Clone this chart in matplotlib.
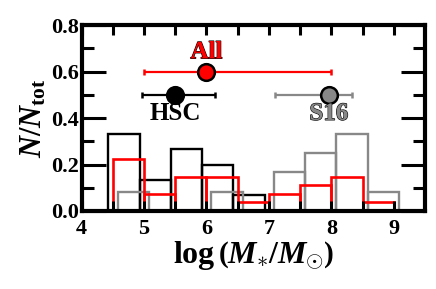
import matplotlib
matplotlib.use('Agg')
import matplotlib.pyplot as plt
import matplotlib.patheffects as pe
import numpy as np

# histogram bins (left edges, width 0.5) and counts
hsc_left = [4.43, 4.93, 5.43, 5.93, 6.43]
hsc_counts = [5, 2, 4, 3, 1]
s16_left = [4.58, 5.08, 5.58, 6.08, 6.58, 7.08, 7.58, 8.08, 8.58]
s16_counts = [1, 0, 0, 1, 0, 2, 3, 4, 1]
all_left = [4.5, 5.0, 5.5, 6.0, 6.5, 7.0, 7.5, 8.0, 8.5]
all_counts = [6, 2, 4, 4, 1, 2, 3, 4, 1]
bin_w = 0.5

# summary points: x, y, lower err, upper err
hsc_pt = (5.5, 0.5, 0.53, 0.63)
s16_pt = (7.96, 0.5, 0.86, 0.37)
all_pt = (6.0, 0.6, 1.0, 2.0)

plt.rcParams['font.family'] = 'Liberation Serif'
plt.rcParams['font.weight'] = 'bold'
plt.rcParams['mathtext.fontset'] = 'custom'
plt.rcParams['mathtext.rm'] = 'Liberation Serif:bold'
plt.rcParams['mathtext.it'] = 'Liberation Serif:bold:italic'
plt.rcParams['mathtext.bf'] = 'Liberation Serif:bold'

fig = plt.figure(figsize=(4.36, 2.89), dpi=100)
ax = fig.add_axes([0.187, 0.27, 0.788, 0.643])

hsc_h = np.array(hsc_counts) / sum(hsc_counts)
s16_h = np.array(s16_counts) / sum(s16_counts)
all_h = np.array(all_counts) / sum(all_counts)

ax.bar(hsc_left, hsc_h, width=bin_w, align='edge', fill=False, edgecolor='black', linewidth=1.7)
ax.bar(s16_left, s16_h, width=bin_w, align='edge', fill=False, edgecolor='#888888', linewidth=1.7)
ax.bar(all_left, all_h, width=bin_w, align='edge', fill=False, edgecolor='red', linewidth=1.9)

def point(p, face, line):
    x, y, lo, hi = p
    ax.errorbar([x], [y], xerr=[[lo], [hi]], fmt='o', color=line, ecolor=line,
                elinewidth=1.6, capsize=2.5, capthick=1.6, markersize=12,
                markerfacecolor=face, markeredgecolor='black', markeredgewidth=1.8)

point(all_pt, 'red', 'red')
point(hsc_pt, 'black', 'black')
point(s16_pt, '#888888', '#888888')

stroke = [pe.withStroke(linewidth=0.8, foreground='black')]
ax.text(6.0, 0.685, 'All', color='red', fontsize=18, ha='center', va='center', path_effects=stroke)
ax.text(5.5, 0.42, 'HSC', color='black', fontsize=18, ha='center', va='center')
ax.text(7.96, 0.42, 'S16', color='#888888', fontsize=18, ha='center', va='center', path_effects=stroke)

ax.set_xlim(4, 9.5)
ax.set_ylim(0, 0.8)
ax.set_xticks(np.arange(4, 10, 1))
ax.set_xticks(np.arange(4.5, 9.5, 1), minor=True)
ax.set_yticks(np.arange(0, 0.81, 0.2))
ax.set_yticks(np.arange(0.1, 0.8, 0.2), minor=True)
ax.set_yticklabels(['%.1f' % v for v in np.arange(0, 0.81, 0.2)])

ax.tick_params(axis='x', which='both', direction='in', top=True, length=7.5, width=2.2,
               labelsize=16, pad=6)
ax.tick_params(axis='y', which='major', direction='in', right=True, length=17, width=2.2,
               labelsize=16, pad=2)
ax.tick_params(axis='y', which='minor', direction='in', right=True, length=8.5, width=2.2)
for s in ax.spines.values():
    s.set_linewidth(3)

ax.set_xlabel(r'$\log\left(M_{\ast}/M_{\odot}\right)$', fontsize=23, labelpad=0)
ax.set_ylabel(r'$N/N_{\rm tot}$', fontsize=22, labelpad=2)

fig.savefig('out.png', dpi=100)
